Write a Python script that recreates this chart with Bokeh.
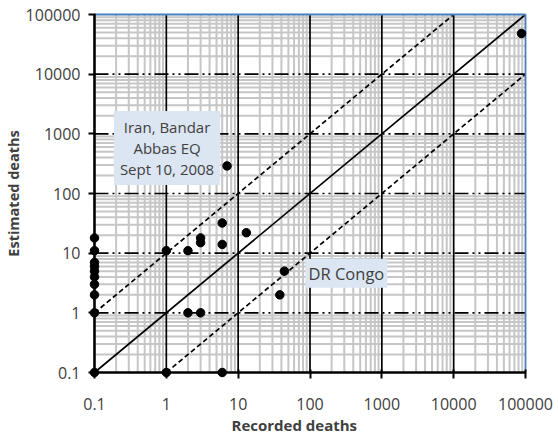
import math
from bokeh.plotting import figure
from bokeh.models import FixedTicker, Label, Title, Range1d
from bokeh.embed import file_html
from bokeh.resources import INLINE

# ---- data ----
recorded = [0.1, 0.1, 0.1, 0.1, 0.1, 0.1, 0.1, 0.1, 0.1, 0.1,
            1, 1, 2, 2, 3, 3, 3, 6, 6, 6, 7, 13, 44, 38, 88000]
estimated = [0.1, 1, 2, 3, 4, 5, 6, 7, 11, 18,
             11, 0.1, 11, 1, 1, 15, 18, 14, 32, 0.1, 290, 22, 5, 2, 48000]

x_ticks = [0.1, 1, 10, 100, 1000, 10000, 100000]
x_tick_labels = ["0.1", "1", "10", "100", "1000", "10000", "100000"]
y_ticks = [0.1, 1, 10, 100, 1000, 10000, 100000]
y_tick_labels = ["0.1", "1", "10", "100", "1000", "10000", "100000"]

iran_point = (7, 290)
iran_text = "Iran, Bandar\nAbbas EQ\nSept 10, 2008"
congo_point = (44, 5)
congo_text = "DR Congo"

x_title = "Recorded deaths"
y_title = "Estimated deaths"

# ---- layout ----
W, H = 558, 436
FL, FR, FT, FB = 87, 531, 8, 378
PAD = 6
x_dec = (FR - FL - 2 * PAD) / (math.log10(x_ticks[-1]) - math.log10(x_ticks[0]))
y_dec = (FB - FT - 2 * PAD) / (math.log10(y_ticks[-1]) - math.log10(y_ticks[0]))
x_range = Range1d(10 ** (math.log10(x_ticks[0]) - PAD / x_dec), 10 ** (math.log10(x_ticks[-1]) + PAD / x_dec))
y_range = Range1d(10 ** (math.log10(y_ticks[0]) - PAD / y_dec), 10 ** (math.log10(y_ticks[-1]) + PAD / y_dec))

FONT = "Open Sans"
TXT = "#404040"

p = figure(width=W, height=H, x_axis_type="log", y_axis_type="log",
           x_range=x_range, y_range=y_range,
           output_backend="svg", toolbar_location=None,
           min_border_left=FL, min_border_right=W - FR,
           min_border_top=FT, min_border_bottom=H - FB)
p.outline_line_color = None
p.background_fill_color = "white"
p.border_fill_color = "white"
p.xgrid.visible = False
p.ygrid.visible = False

# axes
xa = p.xaxis[0]
xa.ticker = FixedTicker(ticks=x_ticks, minor_ticks=[])
xa.major_label_overrides = {t: l for t, l in zip(x_ticks, x_tick_labels)}
xa.axis_line_color = None
xa.major_tick_in = 9
xa.major_tick_out = 0
xa.major_tick_line_width = 2
xa.major_tick_line_color = "black"
xa.minor_tick_line_color = None
xa.major_label_standoff = 19
xa.major_label_text_font = FONT
xa.major_label_text_font_size = "16px"
xa.major_label_text_color = TXT

ya = p.yaxis[0]
ya.ticker = FixedTicker(ticks=y_ticks, minor_ticks=[])
ya.major_label_overrides = {t: l for t, l in zip(y_ticks, y_tick_labels)}
ya.axis_line_color = None
ya.major_tick_in = 7
ya.major_tick_out = 0
ya.major_tick_line_width = 2
ya.major_tick_line_color = "black"
ya.minor_tick_line_color = None
ya.major_label_standoff = 8
ya.major_label_text_font = FONT
ya.major_label_text_font_size = "16px"
ya.major_label_text_color = TXT
ya.axis_label = y_title
ya.axis_label_text_font = FONT
ya.axis_label_text_font_size = "14.5px"
ya.axis_label_text_font_style = "bold"
ya.axis_label_text_color = TXT
ya.axis_label_standoff = 0

xt = Title(text=x_title, align="left", offset=143, standoff=0,
           text_font=FONT, text_font_size="15px", text_font_style="bold",
           text_color=TXT)
p.add_layout(xt, "below")

# grid
x_lo, x_hi = x_ticks[0], x_ticks[-1]
y_lo, y_hi = y_ticks[0], y_ticks[-1]
x_minor = [m * t for t in x_ticks[:-1] for m in range(2, 10)]
y_minor = [m * t for t in y_ticks[:-1] for m in range(2, 10)]
GRAY = "#c6c6c6"
p.segment(x0=x_minor, y0=[y_lo] * len(x_minor), x1=x_minor, y1=[y_hi] * len(x_minor),
          line_color=GRAY, line_width=2)
p.segment(x0=[x_lo] * len(y_minor), y0=y_minor, x1=[x_hi] * len(y_minor), y1=y_minor,
          line_color=GRAY, line_width=2)
xm = x_ticks[1:-1]
ym = y_ticks[1:-1]
p.segment(x0=xm, y0=[y_lo] * len(xm), x1=xm, y1=[y_hi] * len(xm),
          line_color="black", line_width=1.7)
p.segment(x0=[x_lo] * len(ym), y0=ym, x1=[x_hi] * len(ym), y1=ym,
          line_color="black", line_width=1.7, line_dash="14 4 2 4 2 4")

# reference lines y = x, y = 10x, y = x/10
p.line([x_lo, x_hi], [y_lo, y_hi], line_color="black", line_width=1.7)
p.line([x_lo, x_hi / 10], [y_lo * 10, y_hi], line_color="black", line_width=1.7, line_dash="5 3")
p.line([x_lo * 10, x_hi], [y_lo, y_hi / 10], line_color="black", line_width=1.7, line_dash="5 3")

# plot area border
BLUE = "#4a7ebb"
p.line([x_lo, x_hi], [y_hi, y_hi], line_color=BLUE, line_width=1.8)
p.line([x_hi, x_hi], [y_lo, y_hi], line_color=BLUE, line_width=1.8)
p.line([x_lo, x_lo], [y_lo, y_hi], line_color="black", line_width=2.6)
p.line([x_lo, x_hi], [y_lo, y_lo], line_color="black", line_width=2.6)

# points
p.scatter(recorded, estimated, size=8.5, color="black")

# annotations
BOX = "#dce6f2"
p.add_layout(Label(x=iran_point[0], y=iran_point[1], x_offset=-60, y_offset=18,
                   text=iran_text, text_align="center", text_baseline="middle",
                   text_font=FONT, text_font_size="15px", text_color=TXT,
                   text_line_height=1.05, background_fill_color=BOX, padding=6))
p.add_layout(Label(x=congo_point[0], y=congo_point[1], x_offset=62, y_offset=-2,
                   text=congo_text, text_align="center", text_baseline="middle",
                   text_font=FONT, text_font_size="16.5px", text_color=TXT,
                   background_fill_color=BOX, padding=3))

open("out.html", "w").write(file_html(p, INLINE))
